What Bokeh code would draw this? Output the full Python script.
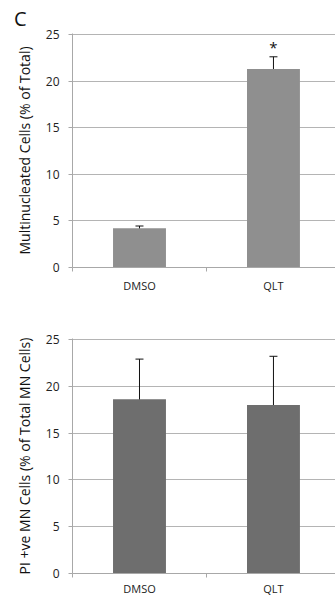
from bokeh.plotting import figure
from bokeh.models import (ColumnDataSource, Whisker, TeeHead, FixedTicker, Range1d, Div)
from bokeh.layouts import column
from bokeh.embed import file_html
from bokeh.resources import INLINE
from bokeh.core.properties import value

# ---- data ----
categories = ["DMSO", "QLT"]
multinucleated = [4.2, 21.3]
multinucleated_err = [0.25, 1.3]
pi_positive = [18.6, 18.0]
pi_positive_err = [4.3, 5.2]
y_ticks = [0, 5, 10, 15, 20, 25]
panel_letter = "C"
significance = ["", "*"]

FONT = "Open Sans"


def make_panel(vals, errs, color, ylabel, height, top, bottom, xstandoff, stars=None):
    xs = [i + 0.5 for i in range(len(categories))]
    p = figure(width=335, height=height, output_backend="svg", toolbar_location=None,
               x_range=Range1d(0, 1.963), y_range=Range1d(0, 25.1),
               min_border_left=72, min_border_right=0, min_border_top=top,
               min_border_bottom=bottom)
    p.outline_line_color = None
    src = ColumnDataSource(dict(x=xs, top=vals,
                                upper=[v + e for v, e in zip(vals, errs)],
                                lower=[v - e for v, e in zip(vals, errs)]))
    p.vbar(x="x", top="top", width=0.395, bottom=0, source=src,
           fill_color=color, line_color=None)
    w = Whisker(base="x", upper="upper", lower="lower", source=src,
                line_color="#111111", line_width=1,
                upper_head=TeeHead(size=8, line_color="#111111", line_width=1),
                lower_head=TeeHead(size=8, line_color="#111111", line_width=1))
    p.add_layout(w)
    if stars:
        ssrc = ColumnDataSource(dict(x=xs, y=[v + e + 1.1 for v, e in zip(vals, errs)], t=stars))
        p.text(x="x", y="y", text="t", source=ssrc, text_align="center",
               text_baseline="middle", text_font=value(FONT), text_font_size="15px",
               text_color="#111111")

    # y axis
    p.yaxis.ticker = FixedTicker(ticks=y_ticks)
    p.yaxis.axis_label = ylabel
    p.yaxis.axis_label_text_font = FONT
    p.yaxis.axis_label_text_font_style = "normal"
    p.yaxis.axis_label_text_font_size = "14px"
    p.yaxis.axis_label_text_color = "#111111"
    p.yaxis.axis_label_standoff = 9
    p.yaxis.major_label_text_font = FONT
    p.yaxis.major_label_text_font_size = "12px"
    p.yaxis.major_label_text_color = "#222222"
    p.yaxis.major_label_standoff = 9
    p.yaxis.major_tick_out = 4
    p.yaxis.major_tick_in = 0
    p.yaxis.minor_tick_line_color = None
    p.yaxis.axis_line_color = "#a8a8a8"
    p.yaxis.major_tick_line_color = "#a8a8a8"

    # x axis
    p.xaxis.ticker = FixedTicker(ticks=xs, minor_ticks=list(range(len(categories) + 1)))
    p.xaxis.major_label_overrides = {x: c for x, c in zip(xs, categories)}
    p.xaxis.major_label_text_font = FONT
    p.xaxis.major_label_text_font_size = "11px"
    p.xaxis.major_label_text_color = "#222222"
    p.xaxis.major_label_standoff = xstandoff
    p.xaxis.major_tick_line_color = None
    p.xaxis.major_tick_out = 0
    p.xaxis.major_tick_in = 0
    p.xaxis.minor_tick_out = 4
    p.xaxis.minor_tick_in = 0
    p.xaxis.minor_tick_line_color = "#a8a8a8"
    p.xaxis.axis_line_color = "#a8a8a8"

    p.xgrid.grid_line_color = None
    p.ygrid.grid_line_color = "#b4b4b4"
    p.ygrid.grid_line_width = 1
    return p


letter_html = ('<div style="padding-top:12px;padding-left:14px;margin:0;font-family:\'Open Sans\';'
               'font-size:20px;line-height:13px;color:#111111;">' + panel_letter + '</div>')
letter = Div(text=letter_html, width=335, height=25, margin=(0, 0, 0, 0),
             styles={"overflow": "visible"})
p1 = make_panel(multinucleated, multinucleated_err, "#8f8f8f",
                "Multinucleated Cells (% of Total)", 275, 8, 33, 6, stars=significance)
p1.border_fill_color = None
p2 = make_panel(pi_positive, pi_positive_err, "#6e6e6e",
                "PI +ve MN Cells (% of Total MN Cells)", 298, 38, 25, 3)

layout = column(letter, p1, p2, spacing=0)
open("out.html", "w").write(file_html(layout, INLINE))
